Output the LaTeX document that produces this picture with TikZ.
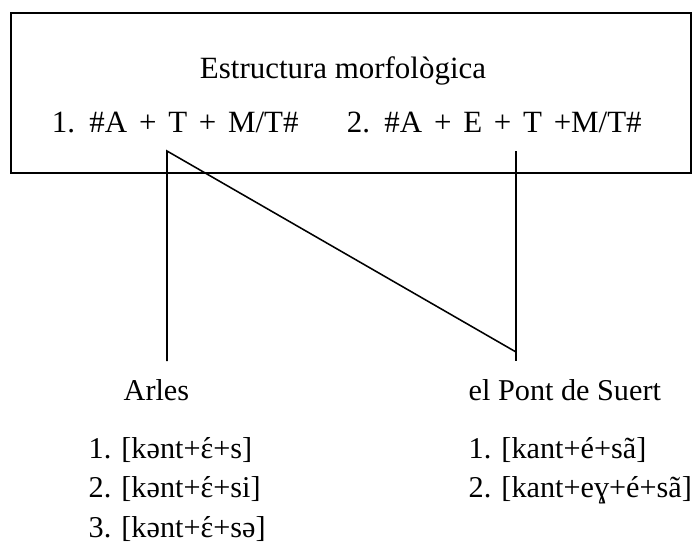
\documentclass[tikz,border=0pt]{standalone}
\usepackage{fontspec}
\setmainfont{Liberation Serif}
\newcommand{\epsacut}{\ooalign{ɛ\cr\hidewidth´\hidewidth\cr}}
\newcommand{\widesp}{\spaceskip=0.38em\relax}
\begin{document}
\begin{tikzpicture}[x=0.025cm, y=-0.025cm, font=\fontsize{22}{26}\selectfont]
\useasboundingbox (0,0) rectangle (698,545);

% Caja
\draw [line width=1.4pt] (11,13) rectangle (691,173);
\node [text=black, anchor=base] (titol) at (343,79) {Estructura morfològica};
\node [text=black, anchor=base west, font=\fontsize{22}{26}\selectfont\widesp] (est1) at (47,133) {1. \#A + T + M/T\#};
\node [text=black, anchor=base west, font=\fontsize{22}{26}\selectfont\widesp] (est2) at (342,133) {2. \#A + E + T +M/T\#};

% Punts de les línies
\coordinate (t1) at (167,151);
\coordinate (t2) at (516,151);
\coordinate (a) at (167,361);
\coordinate (p) at (516,361);
\coordinate (pd) at (516,352);

% Línies
\draw [line width=1.1pt] (a) -- (t1) -- (pd);
\draw [line width=1.1pt] (t2) -- (p);

% Etiquetes
\begin{scope}[font=\fontsize{21.5}{25}\selectfont, inner sep=1pt]
\node [text=black, anchor=base west] (arles) at (122,400) {Arles};
\node [text=black, anchor=base west] (ar1) at (87,458) {1. [kənt+\epsacut+s]};
\node [text=black, anchor=base west] (ar2) at (87,497) {2. [kənt+\epsacut+si]};
\node [text=black, anchor=base west] (ar3) at (87,537) {3. [kənt+\epsacut+sə]};
\node [text=black, anchor=base west] (pont) at (467,400) {el Pont de Suert};
\node [text=black, anchor=base west] (po1) at (467,458) {1. [kant+é+sã]};
\node [text=black, anchor=base west] (po2) at (467,497) {2. [kant+eɣ+é+sã]};
\end{scope}
\end{tikzpicture}
\end{document}
